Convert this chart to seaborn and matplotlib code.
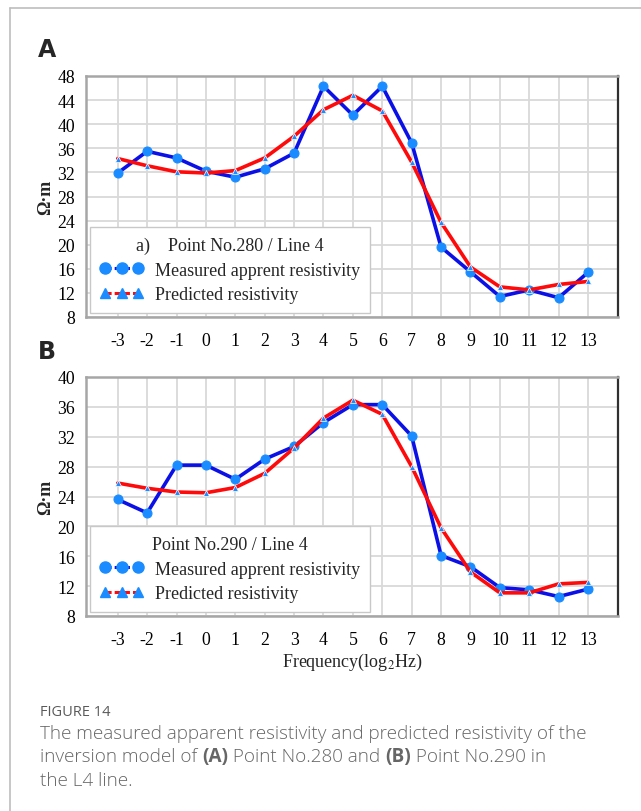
import matplotlib
matplotlib.use("Agg")
import matplotlib.pyplot as plt
import seaborn as sns
import numpy as np
from matplotlib.lines import Line2D

sns.set_theme(style="white")
plt.rcParams['font.family'] = ['Liberation Serif', 'DejaVu Serif']
plt.rcParams['mathtext.fontset'] = 'stix'

freq = [-3, -2, -1, 0, 1, 2, 3, 4, 5, 6, 7, 8, 9, 10, 11, 12, 13]
measured_a = [31.9, 35.5, 34.4, 32.2, 31.2, 32.6, 35.2, 46.3, 41.5, 46.3, 36.9, 19.6, 15.5, 11.4, 12.5, 11.2, 15.4]
predicted_a = [34.3, 33.1, 32.1, 31.9, 32.3, 34.4, 38.0, 42.4, 44.8, 42.2, 33.7, 23.7, 16.3, 13.0, 12.5, 13.4, 13.9]
measured_b = [23.6, 21.8, 28.2, 28.2, 26.3, 29.0, 30.7, 33.9, 36.3, 36.3, 32.1, 16.1, 14.6, 11.8, 11.5, 10.6, 11.6]
predicted_b = [25.8, 25.1, 24.6, 24.5, 25.2, 27.1, 30.5, 34.5, 36.9, 35.0, 28.0, 19.8, 13.9, 11.1, 11.1, 12.3, 12.5]

yticks_a = [8, 12, 16, 20, 24, 28, 32, 36, 40, 44, 48]
yticks_b = [8, 12, 16, 20, 24, 28, 32, 36, 40]

BLUE = "#0a10e6"
RED = "#ff0a0a"
MK = "#1a8cff"
GRID = "#d9d9d9"

fig = plt.figure(figsize=(6.41, 8.12), dpi=100)

# card frame
fig.add_artist(Line2D([10/641, 1], [1-9/812, 1-9/812], color="#bdbdbd", lw=1.2))
fig.add_artist(Line2D([10/641, 10/641], [0, 1-9/812], color="#bdbdbd", lw=1.2))

def panel(ax, meas, pred, yticks, title):
    sns.lineplot(x=freq, y=meas, ax=ax, color=BLUE, lw=2.6, marker='o', markersize=6.5,
                 markerfacecolor=MK, markeredgecolor=MK, legend=False, zorder=3)
    sns.lineplot(x=freq, y=pred, ax=ax, color=RED, lw=2.6, marker='^', markersize=5,
                 markerfacecolor=MK, markeredgecolor="white", markeredgewidth=0.5,
                 legend=False, zorder=4)
    ax.set_xlim(-4.08, 14.02)
    ax.set_ylim(yticks[0], yticks[-1])
    ax.set_xticks(freq)
    ax.set_xticklabels([str(f) for f in freq])
    ax.set_yticks(yticks)
    ax.grid(True, color=GRID, lw=1.3)
    ax.set_axisbelow(True)
    ax.tick_params(axis='both', labelsize=12.8, length=5, color=GRID, width=1.3,
                   direction='out', pad=3, labelcolor='black')
    ax.tick_params(axis='x', pad=6)
    for s in ['left', 'bottom', 'top']:
        ax.spines[s].set_color('#a6a6a6')
        ax.spines[s].set_linewidth(1.8)
    ax.spines['right'].set_color('#303030')
    ax.spines['right'].set_linewidth(1.6)
    ax.set_ylabel("Ω·m", fontsize=13, fontweight='bold', labelpad=2)
    handles = [
        Line2D([0], [0], color=BLUE, lw=2.2, ls=(0, (2, 1)), marker='o', markersize=8,
               markerfacecolor=MK, markeredgecolor=MK),
        Line2D([0], [0], color=RED, lw=2.2, ls=(0, (2, 1)), marker='^', markersize=7,
               markerfacecolor=MK, markeredgecolor=MK),
    ]
    leg = ax.legend(handles, ["Measured apprent resistivity", "Predicted resistivity"],
                    title=title, loc='lower left', bbox_to_anchor=(0.0, 0.0),
                    borderaxespad=0.22,
                    numpoints=3, handlelength=2.4, handletextpad=0.67, fontsize=13,
                    title_fontsize=13, frameon=True, fancybox=False, borderpad=0.55,
                    labelspacing=0.42, framealpha=1, edgecolor='#c8c8c8')
    leg.get_frame().set_linewidth(1.0)
    return leg

axA = fig.add_axes([86/641, 1-318/812, 532/641, 241/812])
panel(axA, measured_a, predicted_a, yticks_a, "a)    Point No.280 / Line 4")
axB = fig.add_axes([86/641, 1-617/812, 532/641, 239/812])
panel(axB, measured_b, predicted_b, yticks_b, "Point No.290 / Line 4")
axB.set_xlabel("Frequency(log$_2$Hz)", fontsize=13, labelpad=2)

fig.text(38/641, 1-50/812, "A", fontsize=17, fontweight='bold', family='DejaVu Sans', va='center')
fig.text(38/641, 1-352/812, "B", fontsize=17, fontweight='bold', family='DejaVu Sans', va='center')

fig.text(40/641, 1-713/812, "FIGURE 14", fontsize=10.5, color='#5a5a5a', family='Open Sans', va='center')

# caption: list of lines, each a list of (text, bold) segments
cap_lines = [
    [("The measured apparent resistivity and predicted resistivity of the", False)],
    [("inversion model of ", False), ("(A)", True), (" Point No.280 and ", False),
     ("(B)", True), (" Point No.290 in", False)],
    [("the L4 line.", False)],
]
fig.canvas.draw()
renderer = fig.canvas.get_renderer()
for i, segs in enumerate(cap_lines):
    x_px = 40.0
    y = 1 - (734 + 23.5 * i) / 812
    for txt, bold in segs:
        t = fig.text(x_px / 641, y, txt, fontsize=13.6, color='#666666',
                     family='Open Sans', fontweight='bold' if bold else 'light',
                     va='center')
        bb = t.get_window_extent(renderer=renderer)
        x_px += bb.width

fig.savefig("out.png", dpi=100)
